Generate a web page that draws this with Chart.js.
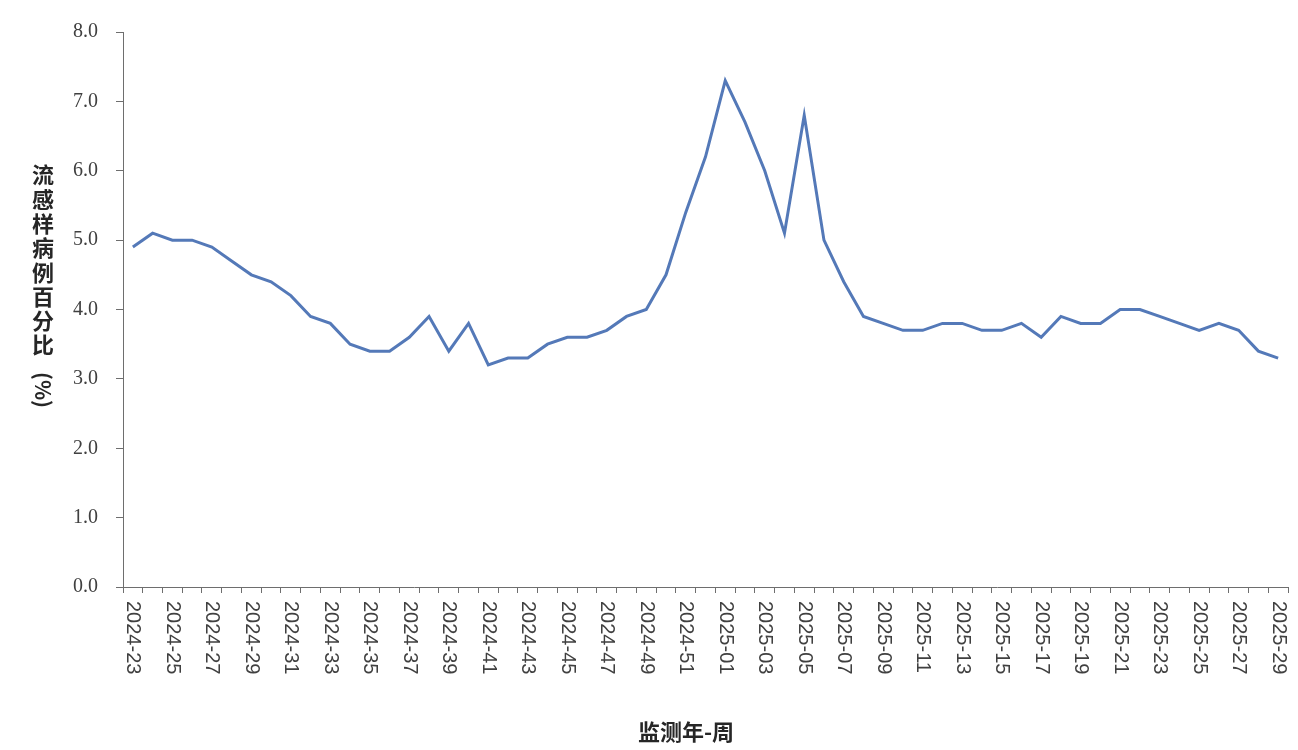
<!DOCTYPE html>
<html>
<head>
<meta charset="utf-8">
<script src="https://cdn.jsdelivr.net/npm/chart.js@4"></script>
<style>
  body { margin: 0; background: #fff; }
</style>
</head>
<body>
<canvas id="flu" width="1298" height="750"></canvas>
<script>
// 监测周 2024-23 ~ 2025-29
const weeks = [
  "2024-23","2024-24","2024-25","2024-26","2024-27","2024-28","2024-29","2024-30","2024-31","2024-32",
  "2024-33","2024-34","2024-35","2024-36","2024-37","2024-38","2024-39","2024-40","2024-41","2024-42",
  "2024-43","2024-44","2024-45","2024-46","2024-47","2024-48","2024-49","2024-50","2024-51","2024-52",
  "2025-01","2025-02","2025-03","2025-04","2025-05","2025-06","2025-07","2025-08","2025-09","2025-10",
  "2025-11","2025-12","2025-13","2025-14","2025-15","2025-16","2025-17","2025-18","2025-19","2025-20",
  "2025-21","2025-22","2025-23","2025-24","2025-25","2025-26","2025-27","2025-28","2025-29"
];
// 流感样病例百分比 (%)
const iliPercent = [
  4.9, 5.1, 5.0, 5.0, 4.9, 4.7, 4.5, 4.4, 4.2, 3.9,
  3.8, 3.5, 3.4, 3.4, 3.6, 3.9, 3.4, 3.8, 3.2, 3.3,
  3.3, 3.5, 3.6, 3.6, 3.7, 3.9, 4.0, 4.5, 5.4, 6.2,
  7.3, 6.7, 6.0, 5.1, 6.8, 5.0, 4.4, 3.9, 3.8, 3.7,
  3.7, 3.8, 3.8, 3.7, 3.7, 3.8, 3.6, 3.9, 3.8, 3.8,
  4.0, 4.0, 3.9, 3.8, 3.7, 3.8, 3.7, 3.4, 3.3
];
const yTitle = "流感样病例百分比";
const yUnit = "(%)";
const xTitle = "监测年-周";

const textColor = "#404040";
const titleColor = "#262626";
const axisColor = "#6e6e6e";

// x labels read top-to-bottom, every other week; plus both axis titles
const labelsPlugin = {
  id: "labels",
  afterDraw(chart) {
    const ctx = chart.ctx;
    const xs = chart.scales.x;
    ctx.save();
    ctx.fillStyle = textColor;
    ctx.font = '20px "Liberation Sans", Arial, sans-serif';
    ctx.textAlign = "left";
    ctx.textBaseline = "middle";
    weeks.forEach((w, i) => {
      if (i % 2) return;
      const x = xs.getPixelForValue(i);
      ctx.save();
      ctx.translate(x, xs.top + 14);
      ctx.rotate(Math.PI / 2);
      ctx.fillText(w, 0, 0);
      ctx.restore();
    });

    // y title, stacked characters
    ctx.fillStyle = titleColor;
    ctx.font = 'bold 22px "Noto Sans CJK SC", sans-serif';
    ctx.textAlign = "center";
    ctx.textBaseline = "middle";
    const cx = 43;
    let cy = 175;
    for (const ch of yTitle) {
      ctx.fillText(ch, cx, cy);
      cy += 24.3;
    }
    ctx.save();
    ctx.translate(cx, 390);
    ctx.rotate(Math.PI / 2);
    ctx.font = 'bold 21px "Noto Sans CJK SC", sans-serif';
    ctx.fillText(yUnit, 0, 0);
    ctx.restore();

    // x title
    ctx.font = 'bold 22px "Noto Sans CJK SC", sans-serif';
    ctx.fillText(xTitle, 686, 732);
    ctx.restore();
  }
};

new Chart(document.getElementById("flu"), {
  type: "line",
  data: {
    labels: weeks,
    datasets: [{
      data: iliPercent,
      borderColor: "#5479b8",
      borderWidth: 3,
      pointRadius: 0,
      tension: 0,
      fill: false
    }]
  },
  options: {
    responsive: false,
    animation: false,
    layout: { padding: { left: 0, right: 10, top: 32, bottom: 0 } },
    plugins: { legend: { display: false }, tooltip: { enabled: false } },
    scales: {
      x: {
        type: "category",
        offset: true,
        grid: { offset: true, drawOnChartArea: false, tickLength: 6, color: axisColor },
        border: { color: axisColor, width: 1 },
        ticks: { display: false, autoSkip: false },
        afterFit: s => { s.height = 163; }
      },
      y: {
        min: 0,
        max: 8,
        grid: { drawOnChartArea: false, tickLength: 7, color: axisColor },
        border: { color: axisColor, width: 1 },
        ticks: {
          stepSize: 1,
          padding: 18,
          color: textColor,
          font: { family: '"Liberation Serif", "Times New Roman", serif', size: 20 },
          callback: v => v.toFixed(1)
        },
        afterFit: s => { s.width = 123; }
      }
    }
  },
  plugins: [labelsPlugin]
});
</script>
</body>
</html>
